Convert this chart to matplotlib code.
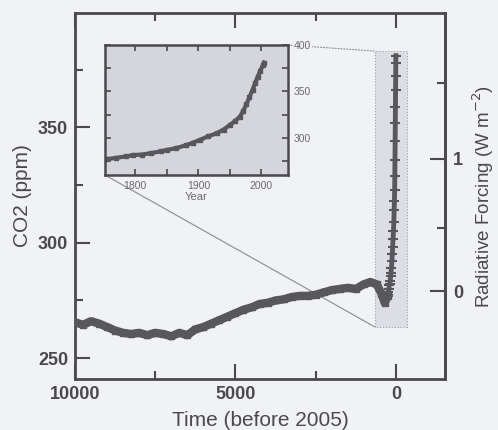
import numpy as np
import matplotlib
matplotlib.use("Agg")
import matplotlib.pyplot as plt
from matplotlib.patches import Rectangle, ConnectionPatch
from matplotlib.ticker import FixedLocator

# Holocene ice-core CO2 (years before 2005, ppm)
hol_age = [10000, 9750, 9500, 9250, 9000, 8750, 8500, 8250, 8000, 7750,
           7500, 7250, 7000, 6750, 6500, 6250, 6000, 5750, 5500, 5250,
           5000, 4750, 4500, 4250, 4000, 3750, 3500, 3250, 3000, 2750,
           2500, 2250, 2000, 1750, 1500, 1250, 1000, 800, 600, 450,
           350, 300, 255]
hol_co2 = [265.5, 264.5, 266.0, 265.0, 263.5, 262.0, 261.0, 260.5, 261.0, 260.0,
           261.0, 260.5, 259.5, 261.0, 260.0, 262.5, 263.5, 265.0, 266.5, 268.0,
           269.5, 271.0, 272.0, 273.5, 274.0, 275.0, 275.5, 276.5, 277.0, 277.0,
           277.5, 278.5, 279.5, 280.0, 280.5, 280.0, 282.0, 283.0, 282.0, 278.0,
           274.0, 276.0, 277.0]

# industrial era (calendar year, ppm) - inset
ind_year = [1753, 1770, 1785, 1797, 1810, 1825, 1840, 1850, 1865, 1880,
            1892, 1903, 1915, 1929, 1940, 1950, 1958, 1966, 1971, 1976,
            1981, 1986, 1990, 1994, 1998, 2002, 2004]
ind_co2 = [277.0, 278.5, 280.0, 281.5, 282.0, 283.5, 285.5, 287.0, 289.0, 292.0,
           295.0, 298.0, 301.5, 305.0, 309.0, 314.0, 318.0, 323.0, 329.0, 336.0,
           344.0, 352.0, 359.0, 366.0, 372.0, 378.0, 381.0]

ref_year = 2005
main_xticks = [10000, 5000, 0]
main_yticks = [250, 300, 350]
rf_ticks = [0, 1]
inset_xticks = [1800, 1900, 2000]
inset_yticks = [300, 350, 400]

BG = "#f1f2f6"
INK = "#4a4a4e"
DATA = "#58585c"
plt.rcParams["font.family"] = ["Liberation Sans", "DejaVu Sans"]

ind_age = [ref_year - y for y in ind_year]

fig = plt.figure(figsize=(4.98, 4.30), dpi=100, facecolor=BG)
ax = fig.add_axes([0.1506, 0.1186, 0.743, 0.8512])
ax.set_facecolor(BG)

ax.add_patch(Rectangle((-340, 263.5), 990, 119.5, facecolor="#dddee4",
                       edgecolor="#a0a0a8", linestyle=":", lw=0.8, zorder=1))
ax.plot(hol_age, hol_co2, color=DATA, lw=6, marker="s", ms=4.5, zorder=3)
ax.plot(ind_age, ind_co2, color=DATA, lw=3.5, marker="_", ms=7, mew=1.5,
        zorder=3)

ax.set_xlim(10000, -1530)
ax.set_ylim(241, 399.5)
ax.set_xticks(main_xticks)
ax.set_xticks([7500, 2500], minor=True)
ax.set_yticks(main_yticks)
ax.set_yticks([275, 325, 375], minor=True)
ax.tick_params(which="both", direction="in", top=True, right=False,
               width=1.5, color=INK, labelcolor=INK, labelsize=13)
ax.tick_params(which="major", length=11, pad=5)
ax.tick_params(which="minor", length=6)
for lbl in ax.get_xticklabels() + ax.get_yticklabels():
    lbl.set_fontweight("bold")
for sp in ax.spines.values():
    sp.set_linewidth(2)
    sp.set_color(INK)
ax.set_xlabel("Time (before 2005)", fontsize=15, color=INK, labelpad=6)
ax.set_ylabel("CO2 (ppm)", fontsize=15, color=INK, labelpad=4)

C0 = 279.0


def to_rf(c):
    return 5.35 * np.log(np.asarray(c, dtype=float) / C0)


def to_co2(f):
    return C0 * np.exp(np.asarray(f, dtype=float) / 5.35)


sec = ax.secondary_yaxis("right", functions=(to_rf, to_co2))
sec.set_yticks(rf_ticks)
sec.yaxis.set_minor_locator(FixedLocator([0.5, 1.5]))
sec.tick_params(which="both", direction="in", width=1.5, color=INK,
                labelcolor=INK, labelsize=13)
sec.tick_params(which="major", length=11, pad=6)
sec.tick_params(which="minor", length=6)
for lbl in sec.get_yticklabels():
    lbl.set_fontweight("bold")
sec.spines["right"].set_linewidth(2)
sec.spines["right"].set_color(INK)
sec.set_ylabel("Radiative Forcing (W m$^{-2}$)", fontsize=13.5, color=INK,
               labelpad=5)

# inset
axins = fig.add_axes([0.2108, 0.593, 0.3675, 0.3023])
axins.set_facecolor("#d5d6dc")
axins.plot(ind_year, ind_co2, color=DATA, lw=3, marker="s", ms=2.5)
axins.set_xlim(1752, 2042)
axins.set_ylim(260, 400)
axins.set_xticks(inset_xticks)
axins.set_xticks([1850, 1950], minor=True)
axins.set_yticks(inset_yticks)
axins.set_yticks([275, 325, 375], minor=True)
axins.yaxis.tick_right()
axins.tick_params(which="both", direction="in", top=True, bottom=True,
                  left=True, right=True, labelleft=False, labelright=True,
                  length=4, width=1.2, color=INK, labelcolor="#6a6a70",
                  labelsize=7.5, pad=4)
for sp in axins.spines.values():
    sp.set_linewidth(1.8)
    sp.set_color(INK)
axins.set_xlabel("Year", fontsize=8, color="#6a6a70", labelpad=1)
for lbl in axins.get_yticklabels():
    lbl.set_bbox(dict(facecolor=BG, edgecolor="none", pad=0.5))

for xyA, xyB, ls in [((0, 0), (650, 263.5), "-"), ((1, 1), (650, 383.0), ":")]:
    con = ConnectionPatch(xyA=xyA, coordsA=axins.transAxes, xyB=xyB,
                          coordsB=ax.transData, color="#8a8a92", lw=0.8,
                          linestyle=ls, zorder=2)
    ax.add_artist(con)

fig.savefig("out.png", dpi=100, facecolor=BG)
